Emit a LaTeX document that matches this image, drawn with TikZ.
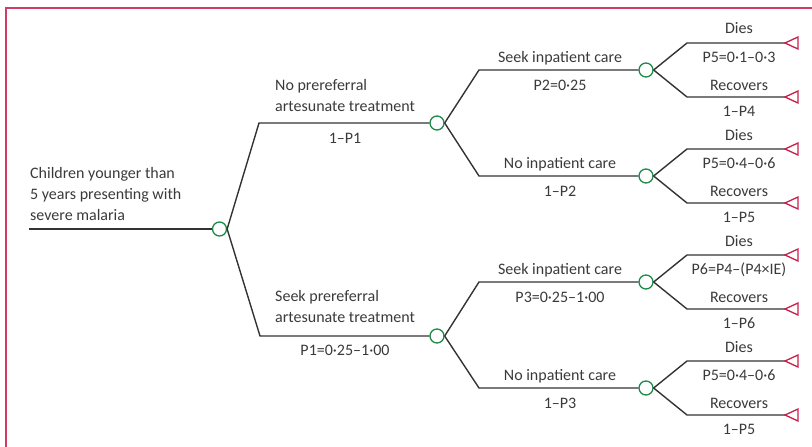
\documentclass[tikz,border=0pt]{standalone}
\usepackage{fontspec}
\setmainfont{Carlito}
\definecolor{txt}{HTML}{3A3A3A}
\definecolor{lgray}{HTML}{333333}
\definecolor{cgreen}{HTML}{1E8A4A}
\definecolor{tred}{HTML}{C8204A}
\definecolor{frame}{HTML}{D23C64}
\begin{document}
\begin{tikzpicture}[x=1pt,y=-1pt,
  lbl/.style={font=\fontsize{16}{21}\selectfont, text=txt, inner sep=0pt},
  chance/.style={circle, draw=cgreen, line width=1.3pt, fill=white, minimum size=14pt, inner sep=0pt},
  branch/.style={draw=lgray, line width=1.4pt},
  term/.style={draw=tred, line width=1.3pt, fill=white, line join=miter},
  frameline/.style={draw=frame, line width=1.6pt}]
\useasboundingbox (0,0) rectangle (812,447);
\draw[frameline] (6,447) -- (6,8) -- (812,8);

% root
\coordinate (R0) at (29,229);
\node[chance] (R) at (219.5,229) {};
\draw[branch] (R0) -- (R);
\node[lbl, anchor=base west] (rt1) at (30,178) {Children younger than};
\node[lbl, anchor=base west] (rt2) at (30,199) {5 years presenting with};
\node[lbl, anchor=base west] (rt3) at (30,220) {severe malaria};

% first level
\coordinate (a) at (259,123);
\coordinate (b) at (260,336);
\node[chance] (A) at (437,123) {};
\node[chance] (B) at (437,336) {};
\draw[branch] (R.east) -- (a) -- (A);
\draw[branch] (R.east) -- (b) -- (B);
\node[lbl, anchor=base west] (la1) at (275,90) {No prereferral};
\node[lbl, anchor=base west] (la2) at (275,111) {artesunate treatment};
\node[lbl, anchor=base] (pa) at (345,143) {1–P1};
\node[lbl, anchor=base west] (lb1) at (275,301) {Seek prereferral};
\node[lbl, anchor=base west] (lb2) at (275,322) {artesunate treatment};
\node[lbl, anchor=base] (pb) at (345,355) {P1=0·25–1·00};

% second level
\foreach \src/\nm/\y in {A/AA/70, A/AB/176, B/BA/282, B/BB/388}{
  \coordinate (e\nm) at (479,\y);
  \node[chance] (\nm) at (646,\y) {};
  \draw[branch] (\src.east) -- (e\nm) -- (\nm);
}
\node[lbl, anchor=base] (tAA) at (560,62) {Seek inpatient care};
\node[lbl, anchor=base] (pAA) at (560,90) {P2=0·25};
\node[lbl, anchor=base] (tAB) at (560,168) {No inpatient care};
\node[lbl, anchor=base] (pAB) at (560,196) {1–P2};
\node[lbl, anchor=base] (tBA) at (560,274) {Seek inpatient care};
\node[lbl, anchor=base] (pBA) at (560,302) {P3=0·25–1·00};
\node[lbl, anchor=base] (tBB) at (560,380) {No inpatient care};
\node[lbl, anchor=base] (pBB) at (560,408) {1–P3};

% third level
\foreach \nm/\y/\pd/\pr in {AA/70/{P5=0·1–0·3}/{1–P4}, AB/176/{P5=0·4–0·6}/{1–P5},
    BA/282/{P6=P4–(P4×IE)}/{1–P6}, BB/388/{P5=0·4–0·6}/{1–P5}}{
  \coordinate (d\nm) at (687,\y-27);
  \coordinate (r\nm) at (687,\y+27);
  \coordinate (td\nm) at (785,\y-27);
  \coordinate (tr\nm) at (785,\y+27);
  \draw[branch] (\nm.east) -- (d\nm) -- (td\nm);
  \draw[branch] (\nm.east) -- (r\nm) -- (tr\nm);
  \draw[term] (td\nm) -- ++(13,-6) -- ++(0,12) -- cycle;
  \draw[term] (tr\nm) -- ++(13,-6) -- ++(0,12) -- cycle;
  \node[lbl, anchor=base] (ld\nm) at (739,\y-27-9) {Dies};
  \node[lbl, anchor=base] (pd\nm) at (739,\y-27+19) {\pd};
  \node[lbl, anchor=base] (lr\nm) at (739,\y+27-7) {Recovers};
  \node[lbl, anchor=base] (pr\nm) at (739,\y+27+19) {\pr};
}
\end{tikzpicture}
\end{document}
